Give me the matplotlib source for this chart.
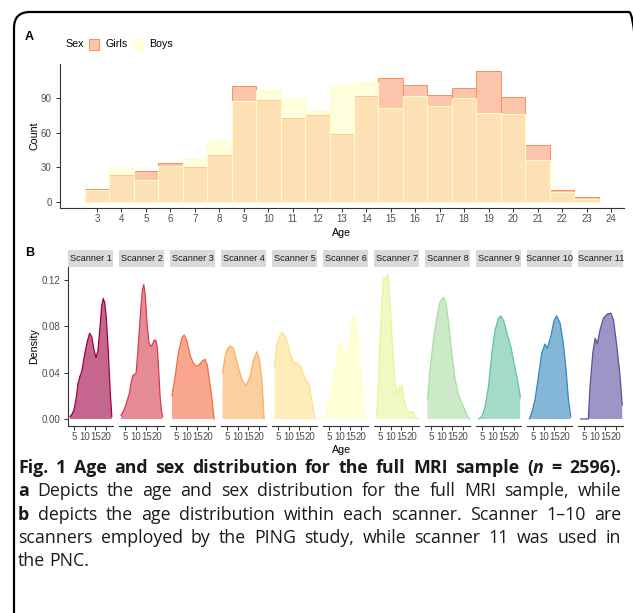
import matplotlib
matplotlib.use("Agg")
import matplotlib.pyplot as plt
from matplotlib.patches import Rectangle, FancyBboxPatch
from matplotlib.colors import to_rgba

plt.rcParams['font.family'] = ['Liberation Sans', 'DejaVu Sans']

# ---- panel A: age histogram by sex ----
ages = [3, 4, 5, 6, 7, 8, 9, 10, 11, 12, 13, 14, 15, 16, 17, 18, 19, 20, 21, 22, 23]
girls = [11, 23, 27, 34, 30, 41, 100, 88, 73, 75, 59, 92, 107, 101, 93, 99, 113, 91, 49, 10, 4]
boys = [10, 29, 19, 31, 37, 53, 87, 97, 89, 79, 101, 104, 81, 92, 83, 90, 77, 76, 36, 9, 3]
age_ticks = list(range(3, 25))
count_ticks = [0, 30, 60, 90]

# ---- panel B: age density per scanner ----
scanner_labels = ["Scanner 1", "Scanner 2", "Scanner 3", "Scanner 4", "Scanner 5", "Scanner 6",
                  "Scanner 7", "Scanner 8", "Scanner 9", "Scanner 10", "Scanner 11"]
scanner_colors = ["#9E0142", "#D53E4F", "#F46D43", "#FDAE61", "#FEE08B", "#FFFFBF",
                  "#E6F598", "#ABDDA4", "#66C2A5", "#3288BD", "#5E4FA2"]
scanner_age = [
    [3.1, 4.0, 5.0, 6.0, 6.8, 7.8, 8.6, 10.0, 11.2, 12.3, 13.3, 14.3, 15.3, 16.2, 17.2, 18.0, 18.7, 19.4, 20.1, 21.0, 22.0, 22.7],
    [3.1, 4.0, 5.0, 6.0, 7.0, 8.0, 8.8, 9.5, 10.2, 11.0, 11.8, 12.5, 13.2, 13.8, 14.5, 15.3, 16.2, 17.0, 17.8, 18.6, 19.4, 20.1, 20.7, 21.4, 22.0, 22.6],
    [3.1, 4.5, 6.1, 7.7, 8.8, 10.0, 11.6, 13.1, 14.7, 16.0, 17.3, 18.6, 19.7, 20.6, 21.7, 22.4, 22.9],
    [2.9, 4.1, 5.3, 6.4, 8.0, 9.8, 11.9, 13.8, 15.8, 17.4, 19.0, 20.2, 21.3, 22.0, 22.4],
    [3.3, 4.4, 5.9, 7.0, 8.8, 10.6, 12.2, 13.2, 14.1, 15.7, 17.7, 19.6, 20.8, 21.6, 22.1, 22.5],
    [3.1, 5.5, 7.8, 9.4, 10.5, 11.7, 13.0, 14.5, 15.7, 16.6, 18.0, 19.5, 21.1, 22.0],
    [3.4, 4.2, 4.7, 5.8, 6.6, 6.9, 7.8, 8.6, 9.2, 9.7, 11.0, 12.0, 13.1, 14.0, 15.2, 16.3, 17.5, 19.1, 20.4, 21.4, 22.6],
    [3.3, 4.5, 6.1, 7.7, 9.2, 10.8, 12.0, 13.1, 14.7, 16.3, 17.8, 19.9, 21.8, 23.0],
    [3.3, 4.9, 6.4, 8.0, 9.6, 11.1, 12.7, 13.9, 15.3, 16.9, 18.5, 20.0, 21.6, 22.8, 22.9],
    [3.3, 4.4, 5.9, 7.5, 9.1, 10.6, 11.7, 13.3, 14.9, 16.1, 17.7, 19.2, 20.5, 21.6, 22.7],
    [3.4, 7.0, 7.8, 9.1, 10.2, 11.2, 12.5, 14.1, 16.0, 17.6, 18.8, 20.4, 21.9, 22.9],
]
scanner_density = [
    [0.002, 0.004, 0.008, 0.018, 0.030, 0.037, 0.041, 0.056, 0.067, 0.074, 0.071, 0.060, 0.053, 0.059, 0.080, 0.098, 0.104, 0.100, 0.088, 0.060, 0.022, 0.002],
    [0.003, 0.006, 0.010, 0.016, 0.022, 0.033, 0.038, 0.038, 0.040, 0.058, 0.080, 0.098, 0.112, 0.116, 0.106, 0.083, 0.066, 0.063, 0.064, 0.068, 0.068, 0.062, 0.045, 0.020, 0.008, 0.002],
    [0.020, 0.036, 0.057, 0.070, 0.0725, 0.068, 0.055, 0.048, 0.0455, 0.047, 0.050, 0.0515, 0.046, 0.034, 0.020, 0.007, 0.0],
    [0.040, 0.054, 0.061, 0.063, 0.061, 0.048, 0.034, 0.029, 0.0365, 0.051, 0.058, 0.051, 0.034, 0.012, 0.0],
    [0.045, 0.064, 0.0725, 0.0745, 0.0697, 0.0567, 0.0495, 0.048, 0.048, 0.045, 0.035, 0.029, 0.016, 0.008, 0.002, 0.0],
    [0.0, 0.022, 0.042, 0.061, 0.065, 0.058, 0.054, 0.068, 0.0826, 0.089, 0.078, 0.045, 0.011, 0.0],
    [0.002, 0.030, 0.057, 0.100, 0.120, 0.1223, 0.1206, 0.125, 0.115, 0.100, 0.057, 0.031, 0.021, 0.028, 0.029, 0.0164, 0.0063, 0.0055, 0.0063, 0.002, 0.0],
    [0.0164, 0.042, 0.068, 0.088, 0.101, 0.105, 0.100, 0.0855, 0.057, 0.034, 0.021, 0.012, 0.0035, 0.0],
    [0.0, 0.002, 0.0106, 0.028, 0.057, 0.077, 0.087, 0.089, 0.084, 0.0725, 0.0625, 0.048, 0.034, 0.021, 0.018],
    [0.0, 0.0055, 0.0164, 0.0365, 0.057, 0.0647, 0.061, 0.071, 0.0855, 0.089, 0.0826, 0.065, 0.042, 0.0164, 0.002],
    [0.0, 0.0, 0.028, 0.057, 0.0697, 0.065, 0.077, 0.087, 0.0907, 0.0913, 0.0855, 0.0625, 0.0365, 0.012],
]
density_ticks = [0.0, 0.04, 0.08, 0.12]
panel_ticks = [5, 10, 15, 20]

W, H = 633, 613
GIRL = "#FC8D59"
BOY = "#FFFFBF"
AXC = "#333333"
TXC = "#4D4D4D"
TICK = 7.0
TITLE = 7.7


def fx(px):
    return px / W


def fy(py):
    return 1 - py / H


fig = plt.figure(figsize=(W / 100, H / 100), dpi=100)

# ---------------- panel A ----------------
ax = fig.add_axes([fx(60), fy(208), fx(564), 144 / H])
ax.bar(ages, girls, width=1, facecolor=to_rgba(GIRL, 0.5), edgecolor=GIRL, linewidth=0.7, zorder=2)
ax.bar(ages, boys, width=1, facecolor=to_rgba(BOY, 0.5), edgecolor=BOY, linewidth=0.7, zorder=3)
ax.set_xlim(1.49, 24.53)
ax.set_ylim(-5.2, 119.4)
ax.set_xticks(age_ticks)
ax.set_yticks(count_ticks)
for s in ["top", "right"]:
    ax.spines[s].set_visible(False)
for s in ["left", "bottom"]:
    ax.spines[s].set_color(AXC)
    ax.spines[s].set_linewidth(0.8)
ax.tick_params(axis="both", colors=AXC, labelcolor=TXC, labelsize=TICK, length=3, width=0.7)
ax.tick_params(axis="x", pad=1.5)
ax.tick_params(axis="y", pad=3)
fig.text(fx(34), fy(136), "Count", rotation=90, ha="center", va="center", fontsize=TITLE, color="black")
fig.text(fx(342), fy(232.5), "Age", ha="center", va="center", fontsize=TITLE, color="black")

# legend
fig.text(fx(65), fy(44), "Sex", ha="left", va="center", fontsize=TITLE)
fig.add_artist(Rectangle((fx(89), fy(49.5)), 10 / W, 11 / H, transform=fig.transFigure,
                         facecolor=to_rgba(GIRL, 0.5), edgecolor=GIRL, linewidth=0.7))
fig.text(fx(105), fy(44), "Girls", ha="left", va="center", fontsize=TITLE)
fig.add_artist(Rectangle((fx(133), fy(49.5)), 10 / W, 11 / H, transform=fig.transFigure,
                         facecolor=to_rgba(BOY, 0.5), edgecolor=BOY, linewidth=0.7))
fig.text(fx(149), fy(44), "Boys", ha="left", va="center", fontsize=TITLE)

fig.text(fx(25), fy(37), "A", ha="left", va="center", fontsize=9, fontweight="bold")
fig.text(fx(25), fy(253), "B", ha="left", va="center", fontsize=9, fontweight="bold")

# ---------------- panel B ----------------
for k in range(len(scanner_labels)):
    left = 68.3 + 51 * k
    axb = fig.add_axes([fx(left), fy(425.7), 45 / W, 158.7 / H])
    c = scanner_colors[k]
    axb.fill_between(scanner_age[k], scanner_density[k], 0, facecolor=to_rgba(c, 0.6), edgecolor="none")
    axb.plot(scanner_age[k], scanner_density[k], color=c, linewidth=0.9)
    axb.set_xlim(2.3, 23.4)
    axb.set_ylim(-0.0058, 0.1312)
    axb.set_xticks(panel_ticks)
    axb.set_xticklabels([str(t) for t in panel_ticks])
    for s in ["top", "right"]:
        axb.spines[s].set_visible(False)
    axb.spines["bottom"].set_color(AXC)
    axb.spines["bottom"].set_linewidth(0.8)
    axb.tick_params(axis="both", colors=AXC, labelcolor=TXC, labelsize=TICK, length=3, width=0.7)
    axb.tick_params(axis="x", pad=1.5)
    if k == 0:
        axb.set_yticks(density_ticks)
        axb.set_yticklabels(["%.2f" % t for t in density_ticks])
        axb.spines["left"].set_color(AXC)
        axb.spines["left"].set_linewidth(0.8)
        axb.tick_params(axis="y", pad=3)
    else:
        axb.spines["left"].set_visible(False)
        axb.set_yticks([])
    # facet strip
    fig.add_artist(Rectangle((fx(left), fy(267.3)), 45 / W, 17.3 / H, transform=fig.transFigure,
                             facecolor="#D9D9D9", edgecolor="none"))
    fig.text(fx(left + 22.5), fy(258.7), scanner_labels[k], ha="center", va="center",
             fontsize=6.6, color="#1A1A1A")

fig.text(fx(34), fy(346), "Density", rotation=90, ha="center", va="center", fontsize=TITLE)
fig.text(fx(342), fy(450), "Age", ha="center", va="center", fontsize=TITLE)

# ---------------- caption ----------------
CAP_FONT = ["Open Sans", "DejaVu Sans"]
CAP_SIZE = 12.8
CAP_X0, CAP_X1 = 18, 621
renderer = fig.canvas.get_renderer()


def caption_line(y_px, words, justify=True):
    size = CAP_SIZE
    while True:
        made, widths = [], []
        for word in words:
            parts, w = [], 0
            for txt, bold, ital in word:
                t = fig.text(0, 0, txt, fontsize=size, family=CAP_FONT,
                             fontweight="bold" if bold else "normal",
                             fontstyle="italic" if ital else "normal",
                             va="baseline", ha="left", color="#1A1A1A")
                pw = t.get_window_extent(renderer=renderer).width
                parts.append((t, pw))
                w += pw
            made.append(parts)
            widths.append(w)
        space = size * 100 / 72 * 0.26
        if not justify or sum(widths) + space * 0.7 * (len(words) - 1) <= CAP_X1 - CAP_X0:
            break
        for parts in made:
            for t, pw in parts:
                t.remove()
        size -= 0.2
    if justify:
        gap = (CAP_X1 - CAP_X0 - sum(widths)) / (len(words) - 1)
    else:
        gap = space
    x = CAP_X0
    for parts in made:
        for t, pw in parts:
            t.set_position((fx(x), fy(y_px)))
            x += pw
        x += gap


def plain(s, bold=False):
    return [[(w, bold, False)] for w in s.split()]


line1 = plain("Fig. 1 Age and sex distribution for the full MRI sample", True)
line1 += [[("(", True, False), ("n", True, True)], [("=", True, False)], [("2596).", True, False)]]
caption_line(473, line1)
caption_line(496.5, [[("a", True, False)]] + plain("Depicts the age and sex distribution for the full MRI sample, while"))
caption_line(519.7, [[("b", True, False)]] + plain("depicts the age distribution within each scanner. Scanner 1\u201310 are"))
caption_line(542.9, plain("scanners employed by the PING study, while scanner 11 was used in"))
caption_line(566.1, plain("the PNC."), justify=False)

# rounded frame (only its left and top edges fall inside the picture)
fig.add_artist(FancyBboxPatch((0.14, -0.5), 6.31, 6.51, boxstyle="round,pad=0,rounding_size=0.16",
                              transform=fig.dpi_scale_trans, fill=False, linewidth=1.6, edgecolor="black"))

fig.savefig("out.png", dpi=100)
